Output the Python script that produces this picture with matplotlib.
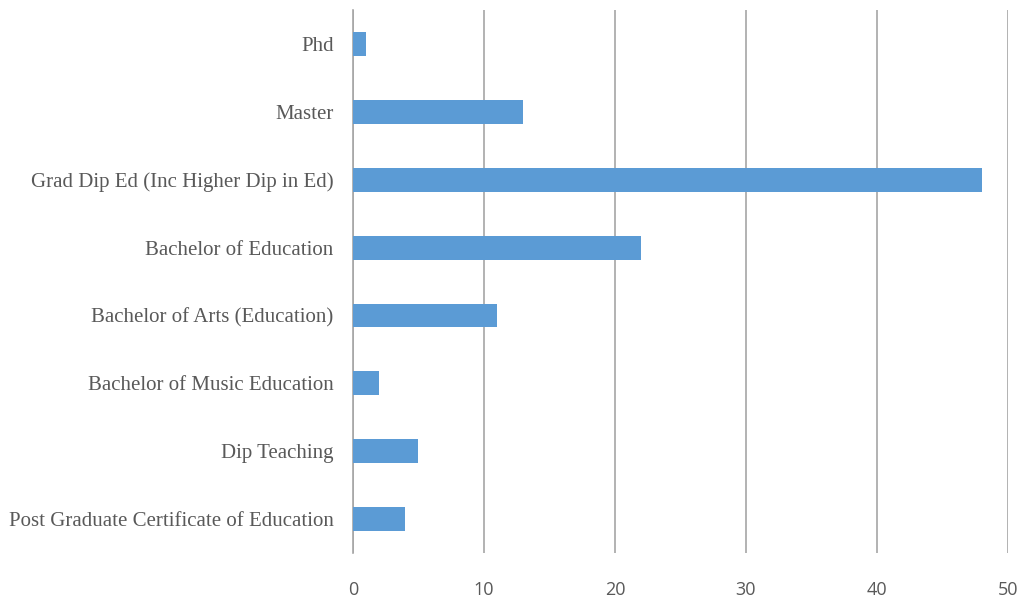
import matplotlib.pyplot as plt

# categories from top to bottom as in the chart
categories = ["Phd", "Master", "Grad Dip Ed (Inc Higher Dip in Ed)", "Bachelor of Education",
              "Bachelor of Arts (Education)", "Bachelor of Music Education", "Dip Teaching",
              "Post Graduate Certificate of Education"]
counts = [1, 13, 48, 22, 11, 2, 5, 4]
x_ticks = [0, 10, 20, 30, 40, 50]

fig = plt.figure(figsize=(10.22, 5.99), dpi=100)
ax = fig.add_axes([0.3454, 0.0768, 0.6409, 0.9062])

positions = list(range(len(categories)))
ax.barh(positions, counts, height=0.35, color="#5B9BD5", zorder=3)

ax.set_ylim(len(categories) - 0.5, -0.5)
ax.set_xlim(0, 50)
ax.set_xticks(x_ticks)
ax.set_yticks(positions)
ax.set_yticklabels(categories, fontfamily="Liberation Serif", fontsize=15, color="#595959")
for lbl in ax.get_xticklabels():
    lbl.set_fontfamily("Open Sans")
    lbl.set_fontsize(13)
    lbl.set_color("#595959")

# vertical grid lines only
ax.grid(True, axis="x", color="#A6A6A6", linewidth=1.2, zorder=0)
for side in ["top", "right", "bottom"]:
    ax.spines[side].set_visible(False)
ax.spines["left"].set_color("#A6A6A6")
ax.spines["left"].set_linewidth(1.2)
ax.tick_params(axis="both", length=0)
ax.tick_params(axis="y", pad=14)
ax.tick_params(axis="x", pad=20)

fig.savefig("out.png", dpi=100)
